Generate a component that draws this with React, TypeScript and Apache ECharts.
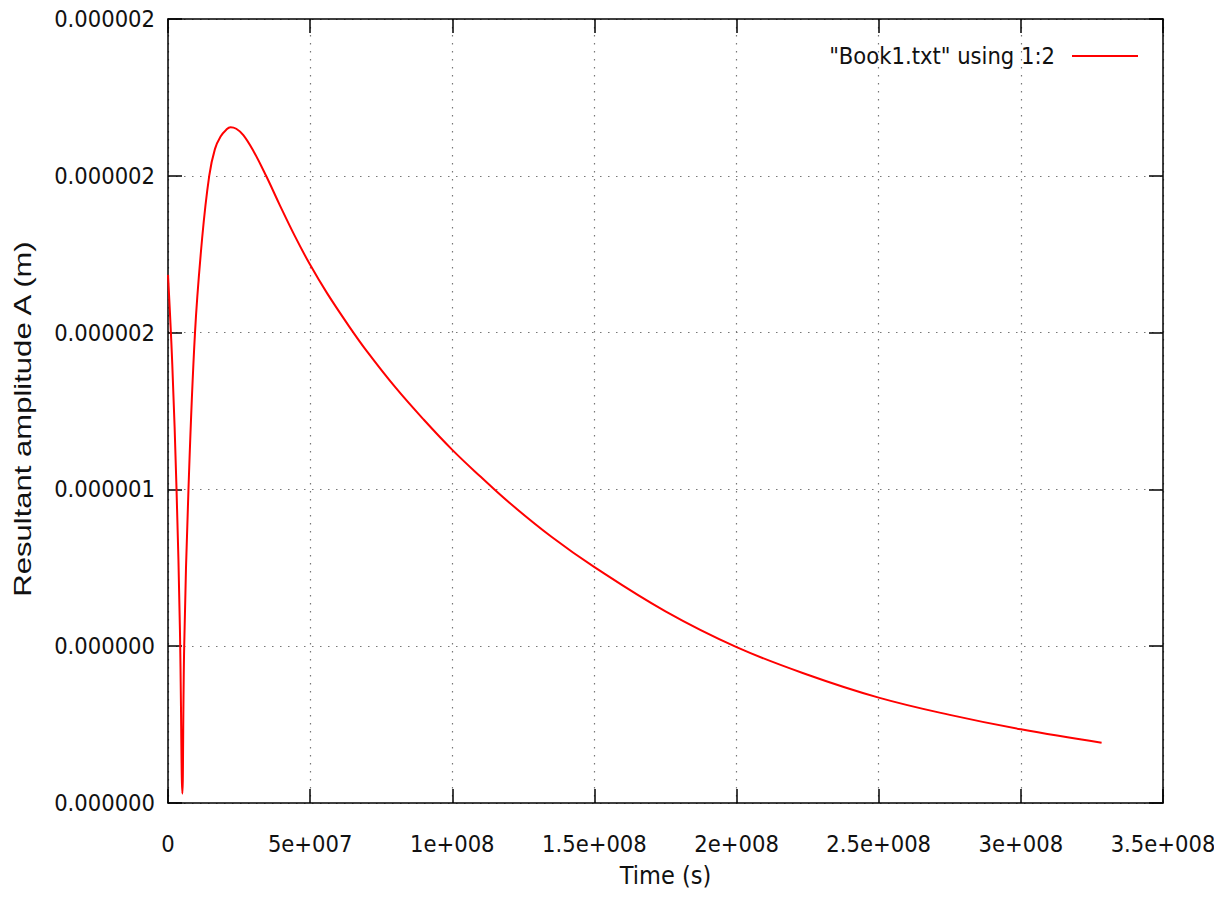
import React, { useEffect, useRef } from 'react';
import * as echarts from 'echarts';

const timeS = [0, 1.5e6, 3.0e6, 4.2e6, 5.05e6, 5.7e6, 7.2e6, 9.5e6, 1.2e7, 1.45e7, 1.65e7, 1.85e7, 2.05e7, 2.2e7, 2.4e7, 2.65e7, 3.0e7, 3.45e7, 3.94e7, 4.45e7, 5.0e7, 5.6e7, 6.37e7, 7.0e7, 8.0e7, 9.0e7, 1.0e8, 1.1e8, 1.2e8, 1.35e8, 1.5e8, 1.75e8, 2.0e8, 2.25e8, 2.5e8, 2.75e8, 3.0e8, 3.284e8];
const amplitudeM = [1.684e-6, 1.4e-6, 1.0e-6, 0.55e-6, 0.03e-6, 0.5e-6, 1.0e-6, 1.5e-6, 1.8e-6, 2.0e-6, 2.085e-6, 2.125e-6, 2.147e-6, 2.155e-6, 2.15e-6, 2.13e-6, 2.08e-6, 2.0e-6, 1.905e-6, 1.81e-6, 1.716e-6, 1.625e-6, 1.52e-6, 1.44e-6, 1.325e-6, 1.222e-6, 1.126e-6, 1.04e-6, 0.958e-6, 0.848e-6, 0.752e-6, 0.611e-6, 0.497e-6, 0.409e-6, 0.336e-6, 0.281e-6, 0.235e-6, 0.192e-6];

const xTickLabels = ['0', '5e+007', '1e+008', '1.5e+008', '2e+008', '2.5e+008', '3e+008', '3.5e+008'];
const yTickLabels = ['0.000000', '0.000000', '0.000001', '0.000002', '0.000002', '0.000002'];

const seriesName = '"Book1.txt" using 1:2';
const xTitle = 'Time (s)';
const yTitle = 'Resultant amplitude A (m)';

const X_STEP = 5e7;
const Y_STEP = 5e-7;

const tickFont = "'DejaVu Sans Condensed', 'Liberation Sans Narrow', sans-serif";
const TICK_SIZE = 23.5;

export default function App() {
  const ref = useRef<HTMLDivElement>(null);
  useEffect(() => {
    if (!ref.current) return;
    const chart = echarts.init(ref.current, undefined, { renderer: 'svg', width: 1214, height: 917 });
    const data = timeS.map((t, i) => [t, amplitudeM[i]]);
    const frame = { show: true, onZero: false, lineStyle: { color: '#000', width: 1.5 } };
    const tick = { show: true, inside: true, length: 14, lineStyle: { color: '#000', width: 1.5 } };
    const grid = { show: true, lineStyle: { color: '#777', width: 1.2, type: [1.5, 6.5] } };
    const xBase = { type: 'value', min: 0, max: 3.5e8, interval: X_STEP };
    const yBase = { type: 'value', min: 0, max: 2.5e-6, interval: Y_STEP };
    chart.setOption({
      animation: false,
      backgroundColor: '#fff',
      grid: { left: 168, right: 51, top: 19, bottom: 114, containLabel: false, outerBoundsMode: 'none' },
      legend: {
        show: true,
        right: 71,
        top: 39,
        align: 'right',
        icon: 'rect',
        itemWidth: 66,
        itemHeight: 2,
        itemGap: 0,
        textStyle: { fontFamily: tickFont, fontSize: TICK_SIZE, color: '#111', padding: [0, 12, 0, 0] },
        data: [seriesName],
      },
      xAxis: [
        {
          ...xBase,
          position: 'bottom',
          axisLine: frame,
          axisTick: tick,
          splitLine: grid,
          axisLabel: {
            show: true,
            margin: 29,
            fontFamily: tickFont,
            fontSize: TICK_SIZE,
            color: '#111',
            showMinLabel: true,
            showMaxLabel: true,
            hideOverlap: false,
            formatter: (v: number) => xTickLabels[Math.round(v / X_STEP)] ?? '',
          },
          name: xTitle,
          nameLocation: 'middle',
          nameGap: 60,
          nameTextStyle: { fontFamily: tickFont, fontSize: 25, color: '#111' },
        },
        {
          ...xBase,
          position: 'top',
          axisLine: frame,
          axisTick: tick,
          splitLine: { show: false },
          axisLabel: { show: false },
        },
      ],
      yAxis: [
        {
          ...yBase,
          position: 'left',
          axisLine: frame,
          axisTick: tick,
          splitLine: grid,
          axisLabel: {
            show: true,
            margin: 13,
            fontFamily: tickFont,
            fontSize: TICK_SIZE,
            color: '#111',
            showMinLabel: true,
            showMaxLabel: true,
            formatter: (v: number) => yTickLabels[Math.round(v / Y_STEP)] ?? '',
          },
        },
        {
          ...yBase,
          position: 'right',
          axisLine: frame,
          axisTick: tick,
          splitLine: { show: false },
          axisLabel: { show: false },
        },
      ],
      graphic: [
        {
          type: 'text',
          x: 23,
          y: 419,
          rotation: Math.PI / 2,
          scaleX: 1.35,
          style: {
            text: yTitle,
            font: "23px 'Liberation Sans', Arial, sans-serif",
            fill: '#111',
            textAlign: 'center',
            textVerticalAlign: 'middle',
          },
        },
      ],
      series: [
        {
          name: seriesName,
          type: 'line',
          xAxisIndex: 0,
          yAxisIndex: 0,
          data,
          smooth: 0.4,
          showSymbol: false,
          symbol: 'none',
          lineStyle: { color: '#ff0000', width: 2 },
          itemStyle: { color: '#ff0000' },
        },
      ],
    });
    return () => chart.dispose();
  }, []);
  return <div ref={ref} style={{ position: 'fixed', left: 0, top: 0, width: 1214, height: 917, background: '#fff' }} />;
}
